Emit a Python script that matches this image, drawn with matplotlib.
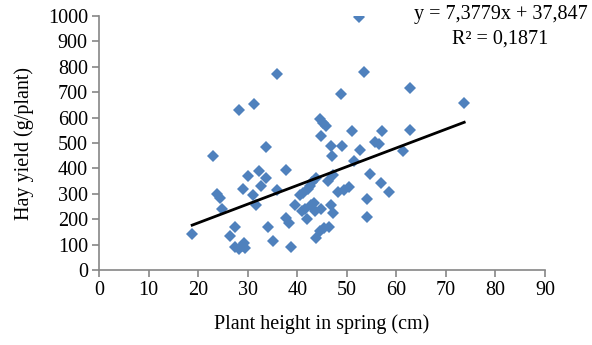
import matplotlib.pyplot as plt
import numpy as np

plt.rcParams['font.family'] = ['Liberation Serif', 'DejaVu Serif']

# plant height in spring (cm) and hay yield (g/plant)
height = [18.8, 23.1, 23.9, 24.4, 24.8, 26.4, 27.5, 27.4, 28.2, 28.8,
          29.3, 29.5, 28.2, 29.1, 30.1, 31.2, 31.1, 31.6, 32.2, 32.6,
          33.8, 33.8, 34.2, 35.2, 35.9, 35.9, 37.8, 37.8, 38.4, 38.8,
          39.5, 40.5, 41.1, 41.6, 41.9, 42.2, 42.6, 43.0, 43.3, 43.6,
          43.8, 43.8, 44.6, 45.5, 46.5, 44.5, 45.2, 45.8, 44.7, 46.2,
          47.2, 46.9, 47.3, 46.9, 47.1, 48.9, 48.2, 49.0, 49.4, 50.5,
          51.0, 51.4, 52.5, 52.7, 53.4, 54.1, 54.1, 54.7, 55.6, 56.6,
          56.9, 57.1, 58.6, 61.4, 62.8, 62.8, 73.7, 42.8, 41.0, 44.9]
hay_yield = [140, 449, 300, 282, 241, 135, 171, 90, 82, 95,
             108, 88, 630, 320, 371, 652, 297, 254, 388, 330,
             361, 483, 170, 116, 772, 316, 395, 203, 186, 91,
             256, 295, 305, 240, 200, 320, 330, 348, 262, 232,
             361, 125, 155, 165, 171, 593, 578, 566, 527, 350,
             374, 257, 225, 490, 448, 693, 308, 490, 315, 325,
             548, 428, 995, 472, 781, 280, 209, 376, 505, 495,
             343, 548, 307, 470, 718, 551, 657, 256, 233, 240]

# linear trendline coefficients
slope = 7.3779
intercept = 37.847
r2 = 0.1871

fs = 14.5

fig = plt.figure(figsize=(5.92, 3.45), dpi=100)
ax = fig.add_axes([0.1672, 0.2174, 0.7534, 0.7362])

ax.plot(height, hay_yield, linestyle='none', marker='D', ms=6.5,
        color='#4F81BD', markeredgewidth=0, zorder=2)

xs = np.array([min(height), max(height)])
ax.plot(xs, slope * xs + intercept, color='black', lw=2, zorder=3)

ax.set_xlim(0, 90)
ax.set_ylim(0, 1000)
ax.set_xticks(np.arange(0, 91, 10))
ax.set_yticks(np.arange(0, 1001, 100))

for side in ['top', 'right']:
    ax.spines[side].set_visible(False)
for side in ['left', 'bottom']:
    ax.spines[side].set_color('#868686')
    ax.spines[side].set_linewidth(1.2)
ax.tick_params(direction='out', length=5, width=1.2, color='#868686',
               labelsize=fs, labelcolor='black', pad=3)

ax.set_xlabel('Plant height in spring (cm)', fontsize=fs, labelpad=10)
ax.set_ylabel('Hay yield (g/plant)', fontsize=fs, labelpad=10)

eq = 'y = ' + f'{slope:.4f}'.replace('.', ',') + 'x + ' + f'{intercept:.3f}'.replace('.', ',')
fig.text(588 / 592, 1 - 15 / 345, eq, ha='right', va='center', fontsize=fs)
fig.text(548 / 592, 1 - 39 / 345, 'R² = ' + f'{r2:.4f}'.replace('.', ','),
         ha='right', va='center', fontsize=fs)

fig.savefig('out.png', dpi=100, facecolor='white')
